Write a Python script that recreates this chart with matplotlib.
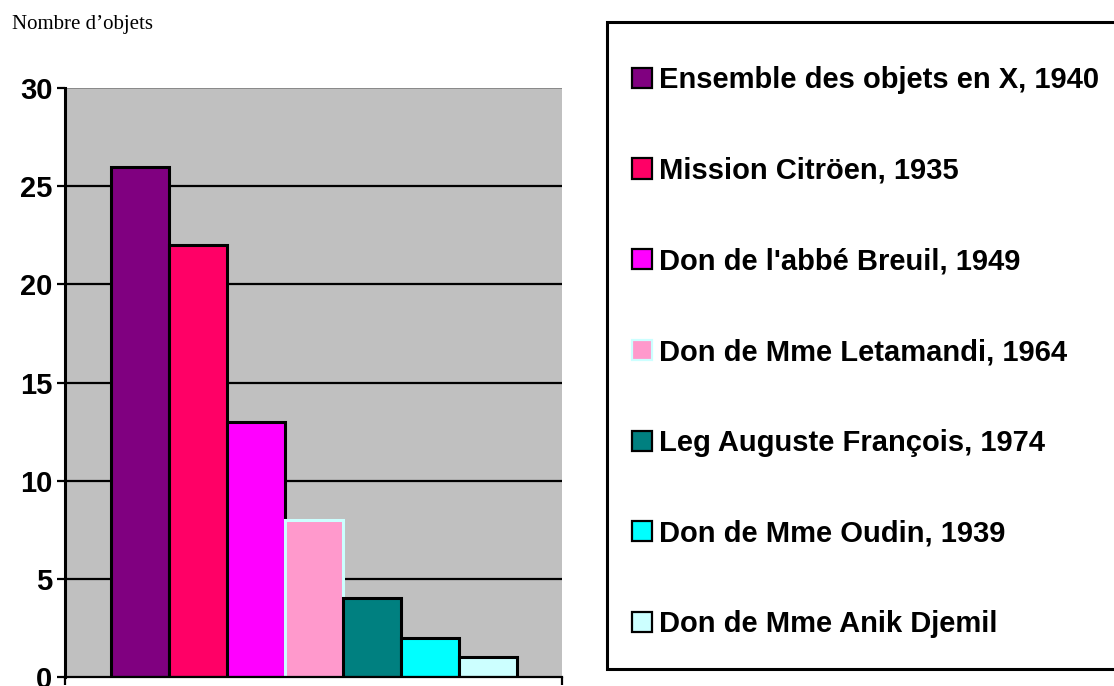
import matplotlib.pyplot as plt
from matplotlib.patches import Rectangle

labels = [
    "Ensemble des objets en X, 1940",
    "Mission Citröen, 1935",
    "Don de l'abbé Breuil, 1949",
    "Don de Mme Letamandi, 1964",
    "Leg Auguste François, 1974",
    "Don de Mme Oudin, 1939",
    "Don de Mme Anik Djemil",
]
values = [26, 22, 13, 8, 4, 2, 1]
colors = ["#800080", "#FF0066", "#FF00FF", "#FF99CC", "#008080", "#00FFFF", "#CCFFFF"]
edges = ["black", "black", "black", "#CCFFFF", "black", "black", "black"]
yticks = [0, 5, 10, 15, 20, 25, 30]

W, H = 1114, 686
fig = plt.figure(figsize=(W / 100, H / 100), dpi=100)
ax = fig.add_axes([65 / W, 1 - 677 / H, (562 - 65) / W, (677 - 88) / H])
ax.set_facecolor("#C0C0C0")

# grid lines under the bars
for y in yticks[1:-1]:
    ax.axhline(y, color="black", linewidth=1.6, zorder=1)
ax.axhline(30, color="#808080", linewidth=1.2, zorder=1)

for i, (v, c, e, lab) in enumerate(zip(values, colors, edges, labels)):
    ax.bar(i, v, width=1.0, color=c, edgecolor=e, linewidth=2.2,
           label=lab, zorder=2)

ax.set_xlim(-1.29, 7.28)
ax.set_ylim(0, 30)
ax.set_yticks(yticks)
ax.set_yticklabels([str(t) for t in yticks], fontsize=21, fontweight="bold",
                   family="Liberation Sans")
ax.set_xticks([-1.29, 7.28])
ax.set_xticklabels(["", ""])
ax.tick_params(axis="y", direction="out", length=6, width=1.6, pad=3)
ax.tick_params(axis="x", direction="out", length=6, width=1.6)

for s in ["top", "right"]:
    ax.spines[s].set_visible(False)
ax.spines["left"].set_linewidth(2.2)
ax.spines["bottom"].set_linewidth(1.6)

fig.text(12 / W, 1 - 25 / H, "Nombre d\u2019objets", fontsize=15,
         family="Liberation Serif", va="center", ha="left")

# legend box (right side runs past the figure edge)
fig.patches.append(Rectangle((607 / W, 1 - 669 / H), (1125 - 607) / W, (669 - 22) / H,
                             transform=fig.transFigure, facecolor="white",
                             edgecolor="black", linewidth=2.2, zorder=0))

leg = fig.legend(
    loc="upper left",
    bbox_to_anchor=(632 / W, 1 - 66 / H),
    prop={"family": "Liberation Sans", "weight": "bold", "size": 21},
    frameon=False,
    handlelength=0.68,
    handleheight=0.68,
    handletextpad=0.25,
    labelspacing=2.15,
    borderpad=0,
    borderaxespad=0,
)
for p in leg.get_patches():
    p.set_linewidth(1.6)

plt.savefig("out.png", dpi=100)
plt.close()
